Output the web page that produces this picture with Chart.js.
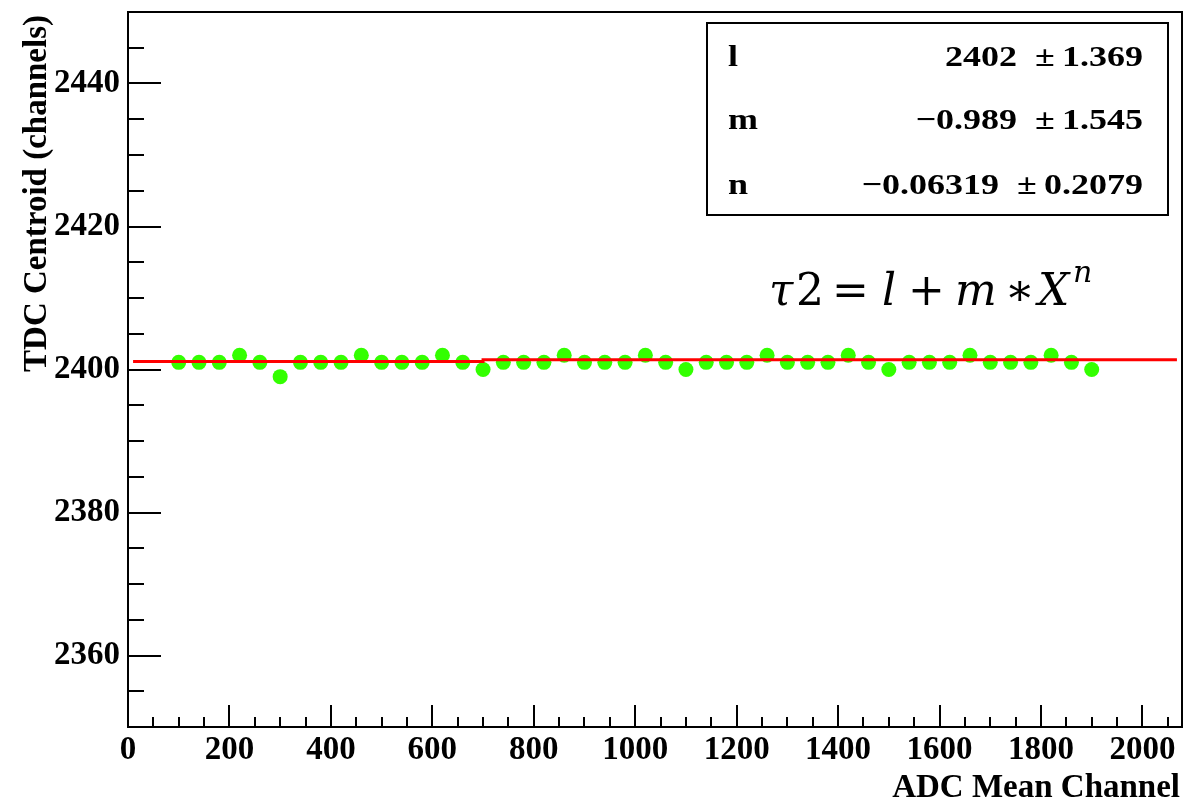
<!DOCTYPE html>
<html>
<head>
<meta charset="utf-8">
<script src="https://cdn.jsdelivr.net/npm/chart.js@4"></script>
<style>
  html, body { margin:0; padding:0; background:#fff; }
  #wrap { width:1185px; height:801px; }
</style>
</head>
<body>
<div id="wrap"><canvas id="chart" width="1185" height="801"></canvas></div>
<script>
// measured points: ADC mean channel vs TDC centroid
const adc = [100,140,180,220,260,300,340,380,420,460,500,540,580,620,660,700,740,780,820,860,900,940,980,1020,1060,1100,1140,1180,1220,1260,1300,1340,1380,1420,1460,1500,1540,1580,1620,1660,1700,1740,1780,1820,1860,1900];
const tdc = [2401,2401,2401,2402,2401,2399,2401,2401,2401,2402,2401,2401,2401,2402,2401,2400,2401,2401,2401,2402,2401,2401,2401,2402,2401,2400,2401,2401,2401,2402,2401,2401,2401,2402,2401,2400,2401,2401,2401,2402,2401,2401,2401,2402,2401,2400];

// fit curve as drawn (tiny step near 700)
const fitX = [10, 700, 700, 2068];
const fitY = [2401.12, 2401.12, 2401.37, 2401.37];

const xTicks = [0,200,400,600,800,1000,1200,1400,1600,1800,2000];
const yTicks = [2360,2380,2400,2420,2440];

const fitNames = ["l", "m", "n"];
const fitVals = ["2402", "\u22120.989", "\u22120.06319"];
const fitErrs = ["1.369", "1.545", "0.2079"];

const FONT = "'Liberation Serif', 'Times New Roman', serif";
const MATH = "'DejaVu Serif', serif";

const rootStyle = {
  id: "rootStyle",
  afterDraw(chart){
    const ctx = chart.ctx;
    const a = chart.chartArea;
    const xs = chart.scales.x, ys = chart.scales.y;
    ctx.save();
    ctx.strokeStyle = "#000";
    ctx.fillStyle = "#000";

    // frame
    ctx.lineWidth = 2;
    ctx.strokeRect(a.left, a.top, a.right - a.left, a.bottom - a.top);

    // y ticks (inside)
    for(let v = 2355; v < 2450; v += 5){
      const y = Math.round(ys.getPixelForValue(v));
      const len = (v % 20 === 0) ? 33 : 16;
      ctx.beginPath(); ctx.moveTo(a.left, y); ctx.lineTo(a.left + len, y); ctx.stroke();
    }
    // x ticks (inside)
    for(let v = 50; v < xs.max; v += 50){
      const x = Math.round(xs.getPixelForValue(v));
      const len = (v % 200 === 0) ? 22 : 10;
      ctx.beginPath(); ctx.moveTo(x, a.bottom); ctx.lineTo(x, a.bottom - len); ctx.stroke();
    }

    // axis titles
    ctx.font = "bold 33px " + FONT;
    ctx.textBaseline = "alphabetic";
    ctx.textAlign = "right";
    ctx.fillText("ADC Mean Channel", 1180, 797);
    ctx.save();
    ctx.translate(46, 15);
    ctx.rotate(-Math.PI/2);
    ctx.fillText("TDC Centroid (channels)", 0, 0);
    ctx.restore();

    // fit parameter box
    ctx.lineWidth = 2;
    ctx.fillStyle = "#fff";
    ctx.fillRect(707, 23, 461, 192);
    ctx.strokeRect(707, 23, 461, 192);
    ctx.fillStyle = "#000";
    const rows = [66, 129, 194];
    for(let i = 0; i < 3; i++){
      ctx.save();
      ctx.translate(0, rows[i]);
      ctx.scale(1.2, 1);
      ctx.font = "bold 30px " + FONT;
      ctx.textAlign = "left";
      ctx.fillText(fitNames[i], 728/1.2, 0);
      ctx.textAlign = "right";
      ctx.fillText(fitVals[i] + "  \u00b1\u2009" + fitErrs[i], 1143/1.2, 0);
      ctx.restore();
    }

    // formula annotation
    const base = 305;
    const pieces = [
      ["\u03c4", 769, "italic", 44, base],
      ["2", 796, "normal", 44, base],
      ["=", 832, "normal", 44, base],
      ["l", 882, "italic", 44, base],
      ["+", 908, "normal", 44, base],
      ["m", 955, "italic", 44, base],
      ["\u2217", 1005, "normal", 44, base],
      ["X", 1038, "italic", 44, base],
      ["n", 1073, "italic", 30, 282]
    ];
    ctx.textAlign = "left";
    for(const p of pieces){
      ctx.font = p[2] + " " + p[3] + "px " + MATH;
      ctx.fillText(p[0], p[1], p[4]);
    }
    ctx.restore();
  }
};

const tickFont = { family: FONT, size: 33, weight: "bold" };

new Chart(document.getElementById("chart"), {
  type: "scatter",
  data: {
    datasets: [
      {
        label: "fit",
        data: fitX.map((x, i) => ({x, y: fitY[i]})),
        showLine: true,
        borderColor: "#ff0000",
        borderWidth: 3,
        pointRadius: 0,
        tension: 0
      },
      {
        label: "data",
        data: adc.map((x, i) => ({x, y: tdc[i]})),
        pointStyle: "circle",
        pointRadius: 7.5,
        backgroundColor: "#33ff00",
        borderColor: "#33ff00",
        borderWidth: 0
      }
    ]
  },
  options: {
    responsive: false,
    animation: false,
    layout: { autoPadding: false, padding: { top: 12, right: 3, left: 0, bottom: 0 } },
    plugins: { legend: { display: false }, tooltip: { enabled: false } },
    scales: {
      x: {
        type: "linear", min: 0, max: 2078,
        grid: { display: false }, border: { display: false },
        afterBuildTicks: s => { s.ticks = xTicks.map(v => ({value: v})); },
        afterFit: s => { s.height = 74; s.paddingLeft = 0; s.paddingRight = 0; },
        ticks: { color: "#000", font: tickFont, padding: -4, maxRotation: 0, autoSkip: false, callback: v => String(v) }
      },
      y: {
        type: "linear", min: 2350, max: 2450,
        grid: { display: false }, border: { display: false },
        afterBuildTicks: s => { s.ticks = yTicks.map(v => ({value: v})); },
        afterFit: s => { s.width = 128; s.paddingTop = 0; s.paddingBottom = 0; },
        ticks: { color: "#000", font: tickFont, padding: 0, autoSkip: false, callback: v => String(v) }
      }
    }
  },
  plugins: [rootStyle]
});
</script>
</body>
</html>
